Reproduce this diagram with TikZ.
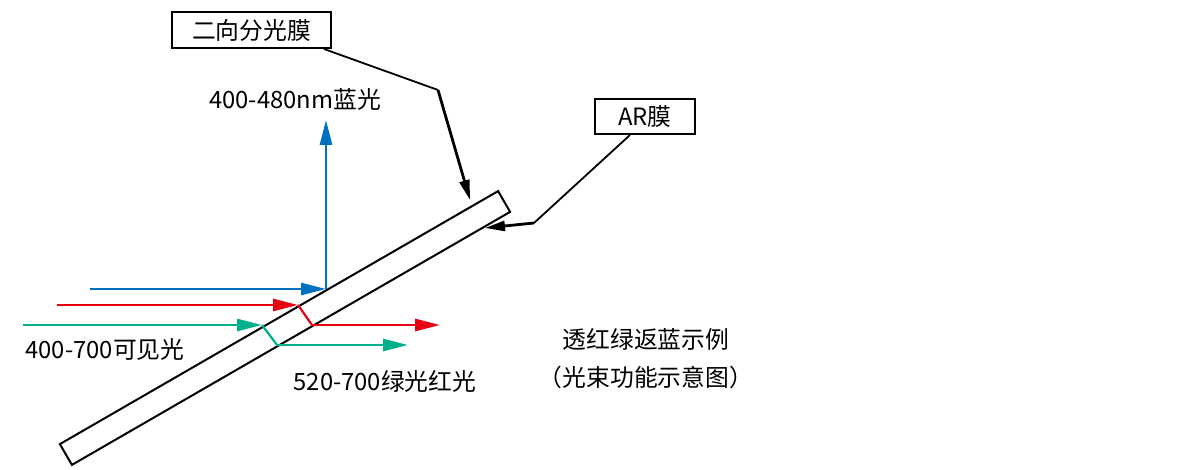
\documentclass[tikz,border=0pt]{standalone}
\usepackage{fontspec}
\setmainfont{Noto Sans CJK SC}
\usetikzlibrary{shapes,arrows.meta,positioning,calc}

\definecolor{bluebeam}{HTML}{0070C0}
\definecolor{redbeam}{HTML}{E60012}
\definecolor{greenbeam}{HTML}{00B08A}

\begin{document}
\begin{tikzpicture}[x=0.5pt, y=-0.5pt,
  font=\fontsize{11.9}{14}\selectfont,
  beam/.style={line width=1.4pt, -{Triangle[length=12.5pt, width=6pt]}},
  inner beam/.style={line width=1.1pt},
  label box/.style={draw, line width=1pt, rectangle, inner sep=0pt},
  leader/.style={line width=0.9pt},
  pointer/.style={line width=1.4pt, -{Triangle[length=10pt, width=5pt]}}]
\useasboundingbox (0,0) rectangle (1200,470);

% 分光板
\node[draw, line width=1pt, rectangle, minimum width=253pt, minimum height=12pt,
  inner sep=0pt, rotate=30] (plate) at (285,328) {};

% 标注框
\node[label box, minimum width=79.5pt, minimum height=18pt] (dichroic) at (251.5,30) {二向分光膜};
\node[label box, minimum width=50pt, minimum height=17.5pt] (ar) at (645,116.5) {AR膜};

% 标注引线
\coordinate (dbend) at (438,90);
\coordinate (dtip) at (470,200);
\draw[leader] (dichroic.south east) ++(-8,0) -- (dbend);
\draw[pointer] (dbend) -- (dtip);
\coordinate (arbend) at (534,223);
\coordinate (artip) at (485,228);
\draw[leader] (ar.south) ++(-15,0) -- (arbend);
\draw[pointer] (arbend) -- (artip);

% 蓝光：反射
\coordinate (bluein) at (90,289);
\coordinate (bluehit) at (326,289);
\coordinate (blueout) at (326,120);
\draw[beam, bluebeam] (bluein) -- (bluehit);
\draw[beam, bluebeam] (bluehit) -- (blueout);
\node (bluelabel) at (295,99) {400-480nm蓝光};

% 红光：透射
\coordinate (redin) at (57,305);
\coordinate (redhit) at (298,305);
\coordinate (redexit) at (312,325);
\coordinate (redout) at (440,325);
\draw[beam, redbeam] (redin) -- (redhit);
\draw[inner beam, redbeam] (redhit) -- (redexit);
\draw[beam, redbeam] (redexit) -- (redout);

% 绿光：透射
\coordinate (greenin) at (23,325);
\coordinate (greenhit) at (262,325);
\coordinate (greenexit) at (277,345);
\coordinate (greenout) at (408,345);
\draw[beam, greenbeam] (greenin) -- (greenhit);
\draw[inner beam, greenbeam] (greenhit) -- (greenexit);
\draw[beam, greenbeam] (greenexit) -- (greenout);

% 文字
\node (inlabel) at (105,349) {400-700可见光};
\node (outlabel) at (385,381) {520-700绿光红光};
\node (title) at (646,339) {透红绿返蓝示例};
\node (subtitle) at (646,377) {（光束功能示意图）};
\end{tikzpicture}
\end{document}
